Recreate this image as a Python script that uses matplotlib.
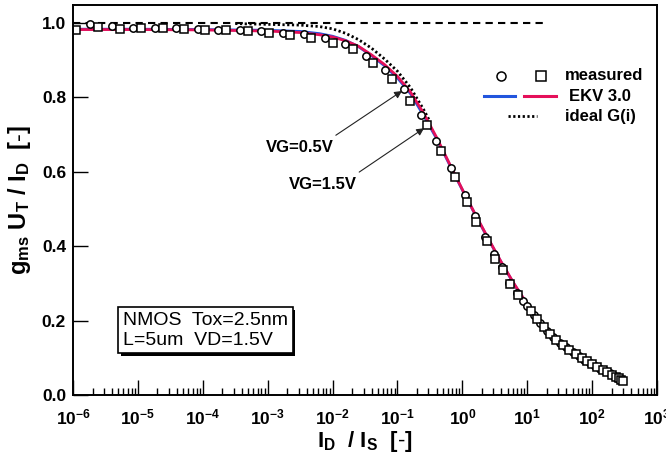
import numpy as np
import matplotlib
matplotlib.use("Agg")
import matplotlib.pyplot as plt
import matplotlib.patheffects as pe
from matplotlib.ticker import FixedLocator, LogLocator, NullFormatter

plt.rcParams['font.family'] = ['Liberation Sans', 'DejaVu Sans']
plt.rcParams['mathtext.fontset'] = 'custom'
plt.rcParams['mathtext.rm'] = 'Liberation Sans'
plt.rcParams['mathtext.bf'] = 'Liberation Sans:bold'
plt.rcParams['mathtext.it'] = 'Liberation Sans:italic'

# measured, VG=0.5V (circles): log10(ID/IS), gms*UT/ID
circ_logi = [-5.74, -5.40, -5.07, -4.74, -4.41, -4.08, -3.76, -3.43, -3.10, -2.77,
             -2.44, -2.12, -1.81, -1.49, -1.20, -0.90, -0.64, -0.41, -0.17, 0.04,
             0.20, 0.35, 0.48, 0.61, 0.72, 0.84, 0.93, 1.00, 1.10, 1.20, 1.30,
             1.40, 1.50, 1.60, 1.70, 1.80, 1.88, 1.96, 2.04, 2.12, 2.20, 2.27,
             2.33, 2.38, 2.42]
circ_g = [0.998, 0.991, 0.987, 0.985, 0.985, 0.983, 0.982, 0.980, 0.978, 0.974,
          0.969, 0.958, 0.944, 0.910, 0.873, 0.821, 0.752, 0.683, 0.610, 0.538,
          0.480, 0.424, 0.379, 0.343, 0.302, 0.273, 0.252, 0.238, 0.214, 0.193, 0.172,
          0.156, 0.140, 0.128, 0.115, 0.104, 0.095, 0.087, 0.079, 0.071, 0.064, 0.058,
          0.052, 0.047, 0.044]

# measured, VG=1.5V (squares)
sq_logi = [-5.95, -5.61, -5.28, -4.95, -4.62, -4.29, -3.97, -3.64, -3.31, -2.98,
           -2.65, -2.33, -2.00, -1.69, -1.38, -1.09, -0.80, -0.55, -0.33, -0.11,
           0.07, 0.21, 0.38, 0.50, 0.63, 0.74, 0.86, 1.05, 1.15, 1.25, 1.35,
           1.45, 1.55, 1.65, 1.75, 1.84, 1.92, 2.00, 2.08, 2.16, 2.23, 2.30,
           2.36, 2.41, 2.45, 2.47]
sq_g = [0.980, 0.989, 0.983, 0.987, 0.985, 0.983, 0.982, 0.980, 0.978, 0.974,
        0.967, 0.960, 0.947, 0.929, 0.893, 0.848, 0.790, 0.725, 0.656, 0.586,
        0.518, 0.465, 0.415, 0.366, 0.335, 0.299, 0.270, 0.226, 0.203, 0.182, 0.164,
        0.148, 0.134, 0.121, 0.109, 0.099, 0.091, 0.083, 0.075, 0.068, 0.061, 0.055,
        0.049, 0.045, 0.041, 0.038]

# EKV 3.0 model curves
ekv_logi = [-6.0, -5.0, -4.0, -3.0, -2.5, -2.2, -2.0, -1.8, -1.6, -1.4, -1.2, -1.0,
            -0.8, -0.6, -0.4, -0.2, 0.0, 0.2, 0.4, 0.6, 0.8, 1.0, 1.1]
ekv_red = [0.982, 0.982, 0.981, 0.978, 0.974, 0.968, 0.962, 0.952, 0.937, 0.914, 0.888, 0.856,
           0.814, 0.758, 0.693, 0.622, 0.552, 0.485, 0.420, 0.357, 0.298, 0.244, 0.222]
ekv_blue = [0.983, 0.983, 0.982, 0.980, 0.977, 0.971, 0.964, 0.953, 0.936, 0.912, 0.885, 0.852,
            0.810, 0.752, 0.690, 0.620, 0.551, 0.484, 0.419, 0.356, 0.297, 0.243, 0.221]

# ideal G(i)
ideal_logi = [-3.5, -2.5, -2.2, -2.0, -1.8, -1.6, -1.4, -1.2, -1.0, -0.8, -0.6, -0.5]
ideal_g = [0.998, 0.994, 0.990, 0.984, 0.972, 0.955, 0.932, 0.903, 0.870, 0.826, 0.768, 0.735]

flat_x = [1e-6, 20]
flat_y = [1.0, 1.0]

xdecades = [-6, -5, -4, -3, -2, -1, 0, 1, 2, 3]
yticks = [0.0, 0.2, 0.4, 0.6, 0.8, 1.0]

BLUE = '#2255dd'
RED = '#e5105a'

fig = plt.figure(figsize=(6.66, 4.59), dpi=100)
ax = fig.add_axes([0.1096, 0.1394, 0.877, 0.8497])

ax.plot(flat_x, flat_y, color='black', lw=1.5, ls=(0, (3.5, 2.5)))
ax.plot(10.0 ** np.array(ideal_logi), ideal_g, color='black', lw=2.0, ls=(0, (0.8, 0.9)))
ax.plot(10.0 ** np.array(ekv_logi), ekv_blue, color=BLUE, lw=2.0)
ax.plot(10.0 ** np.array(ekv_logi), ekv_red, color=RED, lw=2.0)
ax.plot(10.0 ** np.array(circ_logi), circ_g, 'o', ms=5.3, mfc='white', mec='black', mew=1.1)
ax.plot(10.0 ** np.array(sq_logi), sq_g, 's', ms=5.3, mfc='white', mec='black', mew=1.1)

ax.set_xscale('log')
ax.set_xlim(1e-6, 1e3)
ax.set_ylim(0, 1.048)

ax.xaxis.set_major_locator(FixedLocator([10.0 ** d for d in xdecades]))
ax.xaxis.set_minor_locator(LogLocator(base=10, subs=np.arange(2, 10), numticks=20))
ax.xaxis.set_minor_formatter(NullFormatter())
ax.set_xticklabels([r'$\mathbf{10^{%d}}$' % d for d in xdecades])
ax.set_yticks(yticks)
ax.set_yticklabels(['%.1f' % v for v in yticks])

ax.tick_params(which='both', direction='in', top=False, right=False, width=1.0)
ax.tick_params(which='major', length=11)
ax.tick_params(which='minor', length=5)
ax.tick_params(axis='x', pad=9, labelsize=12.5)
ax.tick_params(axis='y', pad=5, labelsize=12.5)
for lab in ax.get_yticklabels():
    lab.set_fontweight('bold')
for sp in ax.spines.values():
    sp.set_linewidth(1.4)

ax.set_xlabel(r'$\mathbf{I_D\ \ /\ I_S\ \ [\text{-}]}$', fontsize=16, labelpad=1)
ax.set_ylabel(r'$\mathbf{g_{ms}\ U_T\ /\ I_D\ \ [\text{-}]}$', fontsize=17, labelpad=6)

# annotations
arrow = dict(arrowstyle='-|>', color='#222222', lw=0.8, mutation_scale=11, shrinkA=0, shrinkB=0)
ax.text(10 ** -2.51, 0.664, 'VG=0.5V', fontsize=12, fontweight='bold', ha='center', va='center')
ax.annotate('', xy=(10 ** -0.93, 0.817), xytext=(10 ** -1.95, 0.698), arrowprops=arrow)
ax.text(10 ** -2.15, 0.566, 'VG=1.5V', fontsize=12, fontweight='bold', ha='center', va='center')
ax.annotate('', xy=(10 ** -0.59, 0.717), xytext=(10 ** -1.59, 0.599), arrowprops=arrow)

box = ax.text(0.085, 0.166, 'NMOS  Tox=2.5nm\nL=5um  VD=1.5V', transform=ax.transAxes,
              fontsize=14, ha='left', va='center', linespacing=1.2,
              bbox=dict(boxstyle='square,pad=0.25', fc='white', ec='black', lw=1.2))
box.get_bbox_patch().set_path_effects([
    pe.SimplePatchShadow(offset=(2, -2), shadow_rgbFace='black', alpha=1.0), pe.Normal()])

# legend drawn by hand
tr = ax.transAxes
ax.plot([0.733], [0.818], 'o', ms=6.5, mfc='white', mec='black', mew=1.1, transform=tr, clip_on=False)
ax.plot([0.801], [0.818], 's', ms=6.5, mfc='white', mec='black', mew=1.1, transform=tr, clip_on=False)
ax.text(0.842, 0.818, 'measured', transform=tr, fontsize=12, fontweight='bold', va='center')
ax.plot([0.703, 0.756], [0.766, 0.766], color=BLUE, lw=2.2, transform=tr)
ax.plot([0.772, 0.827], [0.766, 0.766], color=RED, lw=2.2, transform=tr)
ax.text(0.850, 0.766, 'EKV 3.0', transform=tr, fontsize=12, fontweight='bold', va='center')
ax.plot([0.745, 0.794], [0.715, 0.715], color='black', lw=2.0, ls=(0, (0.8, 0.9)), transform=tr)
ax.text(0.842, 0.715, 'ideal G(i)', transform=tr, fontsize=12, fontweight='bold', va='center')

fig.savefig('out.png', dpi=100)
